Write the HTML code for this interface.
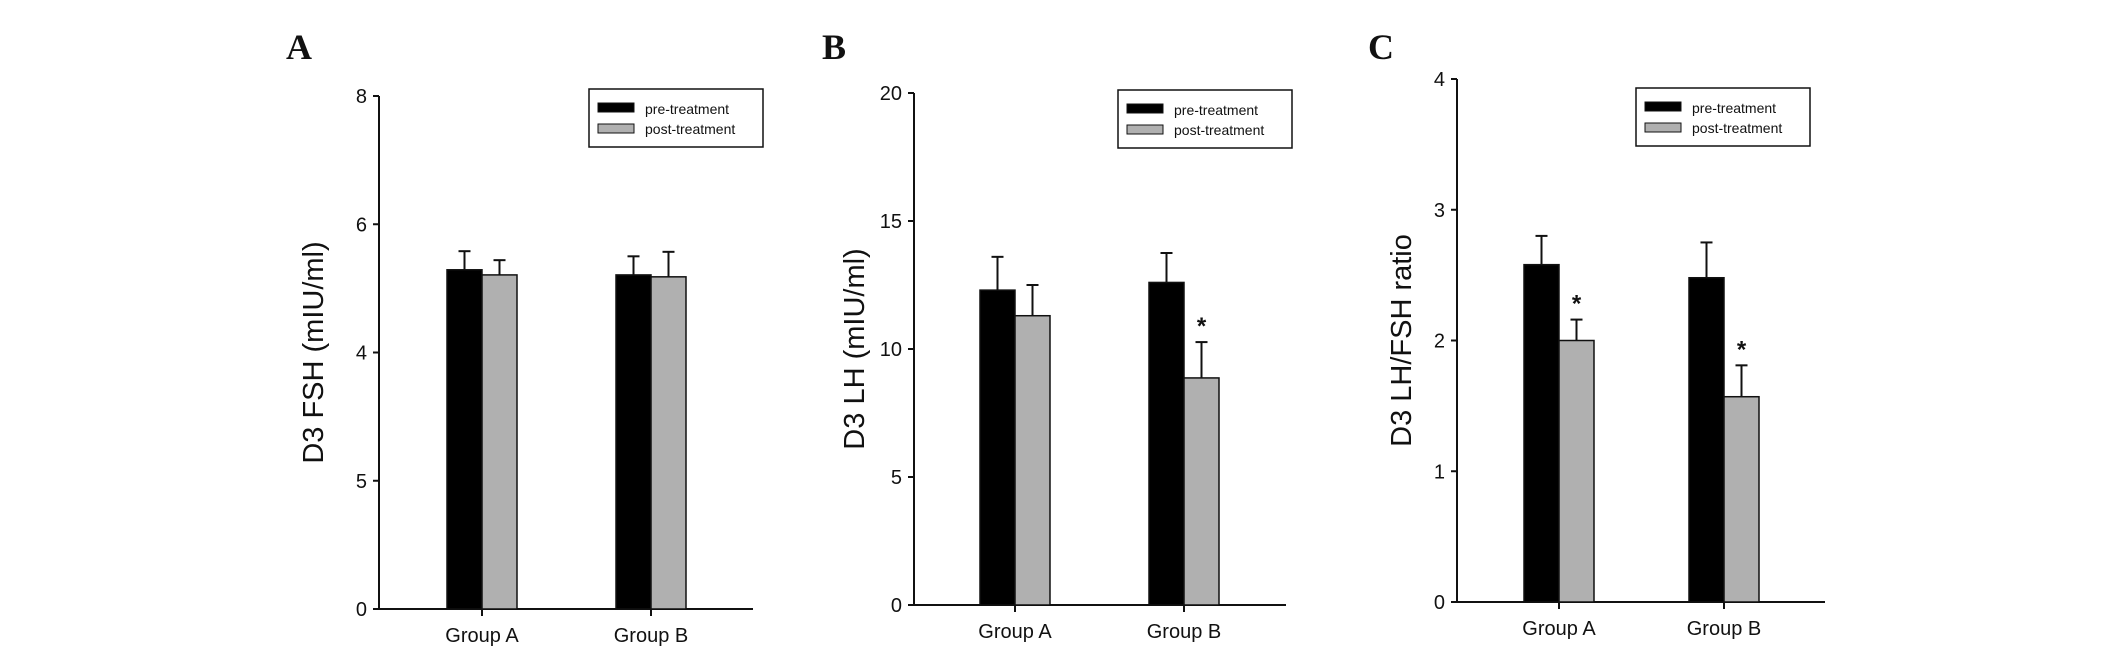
<!DOCTYPE html>
<html><head><meta charset="utf-8"><style>
html,body{margin:0;padding:0;background:#fff;}
svg{display:block;}
text{font-family:"Liberation Sans",Arial,sans-serif;fill:#111;}
.lab{font-family:"Liberation Serif","Times New Roman",serif;font-weight:bold;font-size:36px;}
</style></head><body>
<svg id="fig" width="2126" height="657" viewBox="0 0 2126 657" xmlns="http://www.w3.org/2000/svg"></svg>
<script>
const categories = ["Group A", "Group B"];
const seriesNames = ["pre-treatment", "post-treatment"];
// Panel A: D3 FSH
const fshPre = [5.29, 5.21];
const fshPost = [5.21, 5.18];
const fshPreErr = [0.29, 0.29];
const fshPostErr = [0.23, 0.39];
const fshTicks = [0, 2, 4, 6, 8];
const fshTickLabels = ["0", "5", "4", "6", "8"];
const fshStars = [false, false];
// Panel B: D3 LH
const lhPre = [12.3, 12.6];
const lhPost = [11.3, 8.87];
const lhPreErr = [1.3, 1.15];
const lhPostErr = [1.2, 1.4];
const lhTicks = [0, 5, 10, 15, 20];
const lhTickLabels = ["0", "5", "10", "15", "20"];
const lhStars = [false, true];
// Panel C: LH/FSH ratio
const ratioPre = [2.58, 2.48];
const ratioPost = [2.0, 1.57];
const ratioPreErr = [0.22, 0.27];
const ratioPostErr = [0.16, 0.24];
const ratioTicks = [0, 1, 2, 3, 4];
const ratioTickLabels = ["0", "1", "2", "3", "4"];
const ratioStars = [true, true];

const NS = "http://www.w3.org/2000/svg";
const svg = document.getElementById("fig");
function mk(tag, attrs, parent){
  const e = document.createElementNS(NS, tag);
  for (const k in attrs) e.setAttribute(k, attrs[k]);
  (parent||svg).appendChild(e);
  return e;
}
function panel(cfg){
  const g = mk("g", {});
  
  
  const ymax = cfg.ticks[cfg.ticks.length-1];
  const y = v => cfg.y0 - (v / ymax) * (cfg.y0 - cfg.yTop);
  const lab = mk("text", {x: cfg.labX, y: 59, class: "lab"}, g);
  lab.textContent = cfg.letter;
  
  
  // y axis
  const ya = mk("line", {x1: cfg.ax, y1: y(ymax), x2: cfg.ax, y2: cfg.y0, stroke: "#111", "stroke-width": 2}, g);
  
  
  cfg.ticks.forEach((t, i) => {
    mk("line", {x1: cfg.ax - 6, y1: y(t), x2: cfg.ax, y2: y(t), stroke: "#111", "stroke-width": 2}, g);
    const tl = mk("text", {x: cfg.ax - 12, y: y(t) + 7, "text-anchor": "end", "font-size": 20}, g);
    tl.textContent = cfg.tickLabels[i];
    
    
  });
  const xa = mk("line", {x1: cfg.ax, y1: cfg.y0, x2: cfg.axEnd, y2: cfg.y0, stroke: "#111", "stroke-width": 2}, g);
  
  
  const yt = mk("text", {x: 0, y: 0, "text-anchor": "middle", "font-size": 29, transform: `translate(${cfg.ylx},${(cfg.y0 + y(ymax)) / 2}) rotate(-90)`}, g);
  yt.textContent = cfg.ytitle;
  
  
  const bw = 35;
  categories.forEach((c, i) => {
    const cx = cfg.groupX[i];
    mk("line", {x1: cx, y1: cfg.y0, x2: cx, y2: cfg.y0 + 7, stroke: "#111", "stroke-width": 2}, g);
    const cl = mk("text", {x: cx, y: cfg.y0 + 33, "text-anchor": "middle", "font-size": 20}, g);
    cl.textContent = c;
    
    
    [[cfg.pre, cfg.preErr, "#000", cx - bw, "bar-pre"], [cfg.post, cfg.postErr, "#b0b0b0", cx, "bar-post"]].forEach(([vals, errs, col, x0, nm]) => {
      const v = vals[i], e = errs[i];
      const mx = x0 + bw / 2;
      mk("line", {x1: mx, y1: y(v), x2: mx, y2: y(v + e), stroke: "#111", "stroke-width": 2}, g);
      mk("line", {x1: mx - 6, y1: y(v + e), x2: mx + 6, y2: y(v + e), stroke: "#111", "stroke-width": 2}, g);
      const r = mk("rect", {x: x0, y: y(v), width: bw, height: cfg.y0 - y(v), fill: col, stroke: "#111", "stroke-width": 1.5}, g);
      
      
    });
    if (cfg.stars[i]) {
      const s = mk("text", {x: cx + bw / 2, y: y(cfg.post[i] + cfg.postErr[i]) - 8, "text-anchor": "middle", "font-size": 24, "font-weight": "bold"}, g);
      s.textContent = "*";
      
      
    }
  });
  const lg = mk("g", {}, g);
  
  
  mk("rect", {x: cfg.legX, y: cfg.legY, width: 174, height: 58, fill: "#fff", stroke: "#111", "stroke-width": 1.5}, lg);
  const cols = ["#000", "#b0b0b0"];
  seriesNames.forEach((n, k) => {
    mk("rect", {x: cfg.legX + 9, y: cfg.legY + 14 + k * 21, width: 36, height: 9, fill: cols[k], stroke: "#111", "stroke-width": 1}, lg);
    const t = mk("text", {x: cfg.legX + 56, y: cfg.legY + 25 + k * 20, "font-size": 14}, lg);
    t.textContent = n;
    
    
  });
}
panel({name: "panel-a-fsh", letter: "A", labX: 286, ax: 379, axEnd: 753, y0: 609, yTop: 96, ylx: 323, groupX: [482, 651],
  pre: fshPre, post: fshPost, preErr: fshPreErr, postErr: fshPostErr, ticks: fshTicks, tickLabels: fshTickLabels, stars: fshStars,
  ytitle: "D3 FSH (mIU/ml)", legX: 589, legY: 89});
panel({name: "panel-b-lh", letter: "B", labX: 822, ax: 914, axEnd: 1286, y0: 605, yTop: 93, ylx: 864, groupX: [1015, 1184],
  pre: lhPre, post: lhPost, preErr: lhPreErr, postErr: lhPostErr, ticks: lhTicks, tickLabels: lhTickLabels, stars: lhStars,
  ytitle: "D3 LH (mIU/ml)", legX: 1118, legY: 90});
panel({name: "panel-c-ratio", letter: "C", labX: 1368, ax: 1457, axEnd: 1825, y0: 602, yTop: 79, ylx: 1411, groupX: [1559, 1724],
  pre: ratioPre, post: ratioPost, preErr: ratioPreErr, postErr: ratioPostErr, ticks: ratioTicks, tickLabels: ratioTickLabels, stars: ratioStars,
  ytitle: "D3 LH/FSH ratio", legX: 1636, legY: 88});
</script>
</body></html>
